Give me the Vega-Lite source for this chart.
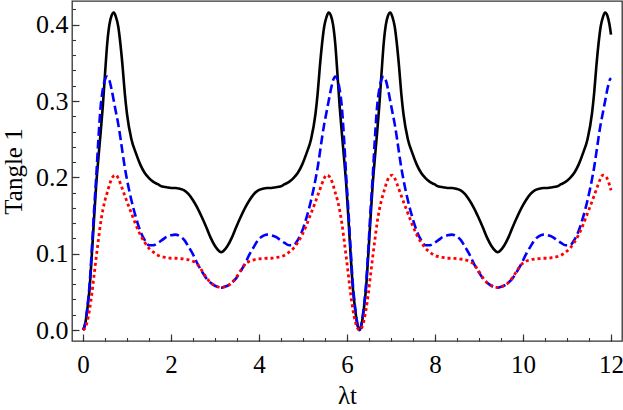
{
"$schema": "https://vega.github.io/schema/vega-lite/v6.json",
"width": 550, "height": 340,
"autosize": {"type": "none"},
"padding": {"left": 72, "top": 1, "right": 1, "bottom": 69},
"background": "white",
"config": {"view": {"stroke": "#333", "strokeWidth": 1.3}, "font": "Liberation Serif"},
"data": {"values": [
{"t":0,"a":0,"b":0,"c":0},
{"t":0.05,"a":0.008,"b":0.009,"c":0.003},
{"t":0.1,"a":0.028,"b":0.03,"c":0.012},
{"t":0.15,"a":0.055,"b":0.06,"c":0.027},
{"t":0.2,"a":0.098,"b":0.105,"c":0.047},
{"t":0.25,"a":0.145,"b":0.155,"c":0.071},
{"t":0.3,"a":0.19,"b":0.2,"c":0.095},
{"t":0.35,"a":0.225,"b":0.25,"c":0.118},
{"t":0.4,"a":0.258,"b":0.292,"c":0.14},
{"t":0.45,"a":0.293,"b":0.315,"c":0.157},
{"t":0.5,"a":0.335,"b":0.328,"c":0.17},
{"t":0.55,"a":0.375,"b":0.332,"c":0.18},
{"t":0.6,"a":0.4,"b":0.327,"c":0.19},
{"t":0.65,"a":0.412,"b":0.315,"c":0.198},
{"t":0.7,"a":0.416,"b":0.3,"c":0.202},
{"t":0.75,"a":0.41,"b":0.285,"c":0.203},
{"t":0.8,"a":0.398,"b":0.27,"c":0.199},
{"t":0.85,"a":0.375,"b":0.252,"c":0.192},
{"t":0.9,"a":0.345,"b":0.232,"c":0.184},
{"t":0.95,"a":0.31,"b":0.213,"c":0.176},
{"t":1.0,"a":0.283,"b":0.197,"c":0.168},
{"t":1.1,"a":0.25,"b":0.17,"c":0.153},
{"t":1.2,"a":0.232,"b":0.148,"c":0.138},
{"t":1.3,"a":0.217,"b":0.13,"c":0.125},
{"t":1.4,"a":0.206,"b":0.118,"c":0.115},
{"t":1.5,"a":0.199,"b":0.111,"c":0.107},
{"t":1.6,"a":0.194,"b":0.111,"c":0.102},
{"t":1.7,"a":0.191,"b":0.114,"c":0.098},
{"t":1.8,"a":0.188,"b":0.118,"c":0.096},
{"t":1.9,"a":0.187,"b":0.122,"c":0.095},
{"t":2.0,"a":0.186,"b":0.124,"c":0.094},
{"t":2.1,"a":0.186,"b":0.125,"c":0.094},
{"t":2.2,"a":0.185,"b":0.123,"c":0.0935},
{"t":2.3,"a":0.183,"b":0.118,"c":0.093},
{"t":2.4,"a":0.178,"b":0.109,"c":0.092},
{"t":2.5,"a":0.17,"b":0.099,"c":0.09},
{"t":2.6,"a":0.16,"b":0.087,"c":0.086},
{"t":2.7,"a":0.148,"b":0.077,"c":0.078},
{"t":2.8,"a":0.135,"b":0.068,"c":0.069},
{"t":2.9,"a":0.121,"b":0.062,"c":0.062},
{"t":3.0,"a":0.11,"b":0.058,"c":0.058},
{"t":3.1,"a":0.103,"b":0.056,"c":0.056},
{"t":3.1416,"a":0.102,"b":0.0555,"c":0.0555},
{"t":3.1832,"a":0.103,"b":0.056,"c":0.056},
{"t":3.2832,"a":0.11,"b":0.058,"c":0.058},
{"t":3.3832,"a":0.121,"b":0.062,"c":0.062},
{"t":3.4832,"a":0.135,"b":0.068,"c":0.069},
{"t":3.5832,"a":0.148,"b":0.077,"c":0.078},
{"t":3.6832,"a":0.16,"b":0.087,"c":0.086},
{"t":3.7832,"a":0.17,"b":0.099,"c":0.09},
{"t":3.8832,"a":0.178,"b":0.109,"c":0.092},
{"t":3.9832,"a":0.183,"b":0.118,"c":0.093},
{"t":4.0832,"a":0.185,"b":0.123,"c":0.0935},
{"t":4.1832,"a":0.186,"b":0.125,"c":0.094},
{"t":4.2832,"a":0.186,"b":0.124,"c":0.094},
{"t":4.3832,"a":0.187,"b":0.122,"c":0.095},
{"t":4.4832,"a":0.188,"b":0.118,"c":0.096},
{"t":4.5832,"a":0.191,"b":0.114,"c":0.098},
{"t":4.6832,"a":0.194,"b":0.111,"c":0.102},
{"t":4.7832,"a":0.199,"b":0.111,"c":0.107},
{"t":4.8832,"a":0.206,"b":0.118,"c":0.115},
{"t":4.9832,"a":0.217,"b":0.13,"c":0.125},
{"t":5.0832,"a":0.232,"b":0.148,"c":0.138},
{"t":5.1832,"a":0.25,"b":0.17,"c":0.153},
{"t":5.2832,"a":0.283,"b":0.197,"c":0.168},
{"t":5.3332,"a":0.31,"b":0.213,"c":0.176},
{"t":5.3832,"a":0.345,"b":0.232,"c":0.184},
{"t":5.4332,"a":0.375,"b":0.252,"c":0.192},
{"t":5.4832,"a":0.398,"b":0.27,"c":0.199},
{"t":5.5332,"a":0.41,"b":0.285,"c":0.203},
{"t":5.5832,"a":0.416,"b":0.3,"c":0.202},
{"t":5.6332,"a":0.412,"b":0.315,"c":0.198},
{"t":5.6832,"a":0.4,"b":0.327,"c":0.19},
{"t":5.7332,"a":0.375,"b":0.332,"c":0.18},
{"t":5.7832,"a":0.335,"b":0.328,"c":0.17},
{"t":5.8332,"a":0.293,"b":0.315,"c":0.157},
{"t":5.8832,"a":0.258,"b":0.292,"c":0.14},
{"t":5.9332,"a":0.225,"b":0.25,"c":0.118},
{"t":5.9832,"a":0.19,"b":0.2,"c":0.095},
{"t":6.0332,"a":0.145,"b":0.155,"c":0.071},
{"t":6.0832,"a":0.098,"b":0.105,"c":0.047},
{"t":6.1332,"a":0.055,"b":0.06,"c":0.027},
{"t":6.1832,"a":0.028,"b":0.03,"c":0.012},
{"t":6.2332,"a":0.008,"b":0.009,"c":0.003},
{"t":6.2832,"a":0,"b":0,"c":0},
{"t":6.3332,"a":0.008,"b":0.009,"c":0.003},
{"t":6.3832,"a":0.028,"b":0.03,"c":0.012},
{"t":6.4332,"a":0.055,"b":0.06,"c":0.027},
{"t":6.4832,"a":0.098,"b":0.105,"c":0.047},
{"t":6.5332,"a":0.145,"b":0.155,"c":0.071},
{"t":6.5832,"a":0.19,"b":0.2,"c":0.095},
{"t":6.6332,"a":0.225,"b":0.25,"c":0.118},
{"t":6.6832,"a":0.258,"b":0.292,"c":0.14},
{"t":6.7332,"a":0.293,"b":0.315,"c":0.157},
{"t":6.7832,"a":0.335,"b":0.328,"c":0.17},
{"t":6.8332,"a":0.375,"b":0.332,"c":0.18},
{"t":6.8832,"a":0.4,"b":0.327,"c":0.19},
{"t":6.9332,"a":0.412,"b":0.315,"c":0.198},
{"t":6.9832,"a":0.416,"b":0.3,"c":0.202},
{"t":7.0332,"a":0.41,"b":0.285,"c":0.203},
{"t":7.0832,"a":0.398,"b":0.27,"c":0.199},
{"t":7.1332,"a":0.375,"b":0.252,"c":0.192},
{"t":7.1832,"a":0.345,"b":0.232,"c":0.184},
{"t":7.2332,"a":0.31,"b":0.213,"c":0.176},
{"t":7.2832,"a":0.283,"b":0.197,"c":0.168},
{"t":7.3832,"a":0.25,"b":0.17,"c":0.153},
{"t":7.4832,"a":0.232,"b":0.148,"c":0.138},
{"t":7.5832,"a":0.217,"b":0.13,"c":0.125},
{"t":7.6832,"a":0.206,"b":0.118,"c":0.115},
{"t":7.7832,"a":0.199,"b":0.111,"c":0.107},
{"t":7.8832,"a":0.194,"b":0.111,"c":0.102},
{"t":7.9832,"a":0.191,"b":0.114,"c":0.098},
{"t":8.0832,"a":0.188,"b":0.118,"c":0.096},
{"t":8.1832,"a":0.187,"b":0.122,"c":0.095},
{"t":8.2832,"a":0.186,"b":0.124,"c":0.094},
{"t":8.3832,"a":0.186,"b":0.125,"c":0.094},
{"t":8.4832,"a":0.185,"b":0.123,"c":0.0935},
{"t":8.5832,"a":0.183,"b":0.118,"c":0.093},
{"t":8.6832,"a":0.178,"b":0.109,"c":0.092},
{"t":8.7832,"a":0.17,"b":0.099,"c":0.09},
{"t":8.8832,"a":0.16,"b":0.087,"c":0.086},
{"t":8.9832,"a":0.148,"b":0.077,"c":0.078},
{"t":9.0832,"a":0.135,"b":0.068,"c":0.069},
{"t":9.1832,"a":0.121,"b":0.062,"c":0.062},
{"t":9.2832,"a":0.11,"b":0.058,"c":0.058},
{"t":9.3832,"a":0.103,"b":0.056,"c":0.056},
{"t":9.4248,"a":0.102,"b":0.0555,"c":0.0555},
{"t":9.4664,"a":0.103,"b":0.056,"c":0.056},
{"t":9.5664,"a":0.11,"b":0.058,"c":0.058},
{"t":9.6664,"a":0.121,"b":0.062,"c":0.062},
{"t":9.7664,"a":0.135,"b":0.068,"c":0.069},
{"t":9.8664,"a":0.148,"b":0.077,"c":0.078},
{"t":9.9664,"a":0.16,"b":0.087,"c":0.086},
{"t":10.0664,"a":0.17,"b":0.099,"c":0.09},
{"t":10.1664,"a":0.178,"b":0.109,"c":0.092},
{"t":10.2664,"a":0.183,"b":0.118,"c":0.093},
{"t":10.3664,"a":0.185,"b":0.123,"c":0.0935},
{"t":10.4664,"a":0.186,"b":0.125,"c":0.094},
{"t":10.5664,"a":0.186,"b":0.124,"c":0.094},
{"t":10.6664,"a":0.187,"b":0.122,"c":0.095},
{"t":10.7664,"a":0.188,"b":0.118,"c":0.096},
{"t":10.8664,"a":0.191,"b":0.114,"c":0.098},
{"t":10.9664,"a":0.194,"b":0.111,"c":0.102},
{"t":11.0664,"a":0.199,"b":0.111,"c":0.107},
{"t":11.1664,"a":0.206,"b":0.118,"c":0.115},
{"t":11.2664,"a":0.217,"b":0.13,"c":0.125},
{"t":11.3664,"a":0.232,"b":0.148,"c":0.138},
{"t":11.4664,"a":0.25,"b":0.17,"c":0.153},
{"t":11.5664,"a":0.283,"b":0.197,"c":0.168},
{"t":11.6164,"a":0.31,"b":0.213,"c":0.176},
{"t":11.6664,"a":0.345,"b":0.232,"c":0.184},
{"t":11.7164,"a":0.375,"b":0.252,"c":0.192},
{"t":11.7664,"a":0.398,"b":0.27,"c":0.199},
{"t":11.8164,"a":0.41,"b":0.285,"c":0.203},
{"t":11.8664,"a":0.416,"b":0.3,"c":0.202},
{"t":11.9164,"a":0.412,"b":0.315,"c":0.198},
{"t":11.9664,"a":0.4,"b":0.327,"c":0.19},
{"t":12.0,"a":0.387,"b":0.33,"c":0.183}
]},
"layer": [
{"mark": {"type": "line", "stroke": "black", "strokeWidth": 2.6, "interpolate": "monotone"},
 "encoding": {
  "x": {"field": "t", "type": "quantitative", "scale": {"domain": [-0.25, 12.25], "nice": false, "zero": false},
   "axis": {"orient": "bottom", "title": "λt", "values": [0,2,4,6,8,10,12], "format": "d", "ticks": false, "domain": false, "grid": false,
    "labelFont": "Liberation Serif", "labelFontSize": 25, "labelColor": "black", "labelPadding": 11,
    "titleFont": "Liberation Serif", "titleFontSize": 25, "titleFontWeight": "normal", "titleColor": "black", "titlePadding": 6}},
  "y": {"field": "a", "type": "quantitative", "scale": {"domain": [-0.0144, 0.431], "nice": false, "zero": false},
   "axis": {"orient": "left", "title": "Tangle 1", "values": [0,0.1,0.2,0.3,0.4], "format": ".1f", "ticks": false, "domain": false, "grid": false,
    "labelFont": "Liberation Serif", "labelFontSize": 26, "labelColor": "black", "labelPadding": 4,
    "titleFont": "Liberation Serif", "titleFontSize": 25, "titleFontWeight": "normal", "titleColor": "black", "titlePadding": 9}}
 }},
{"mark": {"type": "line", "stroke": "#0000ff", "strokeWidth": 2.6, "strokeDash": [9, 4], "interpolate": "monotone"},
 "encoding": {
  "x": {"field": "t", "type": "quantitative",
   "axis": {"orient": "bottom", "title": null, "values": [0,2,4,6,8,10,12], "labels": false, "domain": false, "grid": false, "ticks": true, "tickSize": -7, "tickColor": "#333", "tickWidth": 1.2}},
  "y": {"field": "b", "type": "quantitative",
   "axis": {"orient": "left", "title": null, "values": [0,0.1,0.2,0.3,0.4], "labels": false, "domain": false, "grid": false, "ticks": true, "tickSize": -7, "tickColor": "#333", "tickWidth": 1.2}}
 }},
{"mark": {"type": "line", "stroke": "#ff0000", "strokeWidth": 2.8, "strokeDash": [3, 3], "interpolate": "monotone"},
 "encoding": {
  "x": {"field": "t", "type": "quantitative",
   "axis": {"orient": "bottom", "title": null, "values": [0,0.5,1,1.5,2,2.5,3,3.5,4,4.5,5,5.5,6,6.5,7,7.5,8,8.5,9,9.5,10,10.5,11,11.5,12], "labels": false, "domain": false, "grid": false, "ticks": true, "tickSize": -3.5, "tickColor": "#333", "tickWidth": 1.1}},
  "y": {"field": "c", "type": "quantitative",
   "axis": {"orient": "left", "title": null, "values": [0,0.02,0.04,0.06,0.08,0.1,0.12,0.14,0.16,0.18,0.2,0.22,0.24,0.26,0.28,0.3,0.32,0.34,0.36,0.38,0.4,0.42], "labels": false, "domain": false, "grid": false, "ticks": true, "tickSize": -3.5, "tickColor": "#333", "tickWidth": 1.1}}
 }}
],
"resolve": {"axis": {"x": "independent", "y": "independent"}}
}
